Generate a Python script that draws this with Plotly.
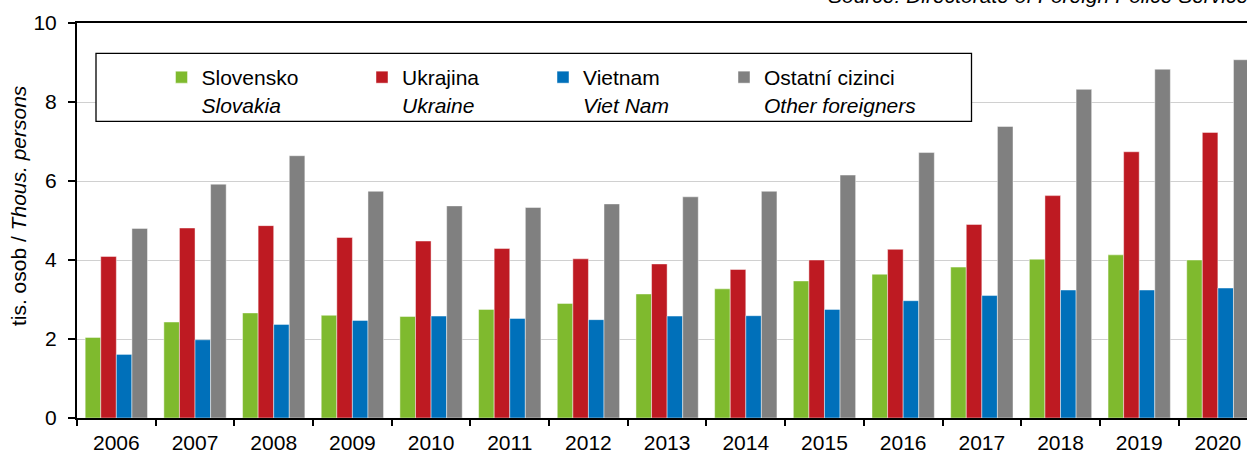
import plotly.graph_objects as go

years = [str(y) for y in range(2006, 2021)]
slovensko = [2.04, 2.43, 2.66, 2.60, 2.57, 2.75, 2.90, 3.14, 3.27, 3.47, 3.64, 3.82, 4.02, 4.13, 4.00]
ukrajina = [4.09, 4.81, 4.87, 4.57, 4.48, 4.29, 4.03, 3.90, 3.76, 4.00, 4.27, 4.90, 5.63, 6.74, 7.23]
vietnam = [1.61, 1.98, 2.37, 2.47, 2.58, 2.52, 2.49, 2.58, 2.59, 2.75, 2.97, 3.10, 3.24, 3.24, 3.29]
ostatni = [4.80, 5.92, 6.64, 5.74, 5.37, 5.33, 5.42, 5.60, 5.74, 6.15, 6.72, 7.38, 8.32, 8.83, 9.07]

names = ["Slovensko<br><i>Slovakia</i>", "Ukrajina<br><i>Ukraine</i>",
         "Vietnam<br><i>Viet Nam</i>", "Ostatní cizinci<br><i>Other foreigners</i>"]
colors = ["#7FBA2E", "#BE1A22", "#0070BA", "#808080"]
series = [slovensko, ukrajina, vietnam, ostatni]
legend_ids = ["legend", "legend2", "legend3", "legend4"]

FONT = "Arial, Liberation Sans, sans-serif"
W, H = 1247, 452
ML, MR, MT, MB = 77, 0, 23, 34
PW, PH = W - ML - MR, H - MT - MB


def px_x(p):
    return (p - ML) / PW


def px_y(p):
    return (H - MB - p) / PH


fig = go.Figure()
for vals, name, col, lid in zip(series, names, colors, legend_ids):
    fig.add_trace(go.Bar(
        x=years, y=vals, name=name, legend=lid,
        marker=dict(color=col, line=dict(color="rgba(255,255,255,0.45)", width=1)),
    ))

legend_px = [161.5, 362, 543, 724]
layout_legends = {}
for lid, lx in zip(legend_ids, legend_px):
    layout_legends[lid] = dict(
        x=px_x(lx), xanchor="left", y=px_y(57), yanchor="top",
        bgcolor="rgba(0,0,0,0)", borderwidth=0, valign="top",
        font=dict(family=FONT, size=21, color="black"),
    )

fig.update_layout(
    width=W, height=H,
    margin=dict(l=ML, r=MR, t=MT, b=MB, pad=0, autoexpand=False),
    paper_bgcolor="white", plot_bgcolor="white",
    barmode="group", bargap=0.208, bargroupgap=0,
    font=dict(family=FONT, size=21, color="black"),
    showlegend=True,
    **layout_legends,
    xaxis=dict(
        type="category", range=[-0.5, 14.37], automargin=False,
        showline=True, linecolor="black", linewidth=2, mirror=True,
        ticks="outside", tickson="boundaries", ticklen=6, tickwidth=2, tickcolor="black",
        showgrid=False, ticklabelstandoff=5,
        tickfont=dict(family=FONT, size=21, color="black"),
    ),
    yaxis=dict(
        range=[0, 10], dtick=2, tick0=0, automargin=False,
        showline=True, linecolor="black", linewidth=2,
        ticks="outside", ticklen=7, tickwidth=1.5, tickcolor="black",
        showgrid=True, gridcolor="#D0D0D0", gridwidth=1.3,
        zeroline=False, ticklabelstandoff=7,
        tickfont=dict(family=FONT, size=21, color="black"),
    ),
    shapes=[dict(
        type="rect", xref="paper", yref="paper", layer="above",
        x0=px_x(96), x1=px_x(971.5), y0=px_y(121.3), y1=px_y(53.3),
        line=dict(color="black", width=1.3), fillcolor="white",
    )],
    annotations=[
        dict(text="tis. osob / <i>Thous. persons</i>", textangle=-90,
             xref="paper", yref="paper", x=px_x(18.5), y=px_y(205.6),
             xanchor="center", yanchor="middle", showarrow=False,
             font=dict(family=FONT, size=21, color="black")),
        dict(text="<i>Source: Directorate of Foreign Police Service</i>",
             xref="paper", yref="paper", x=px_x(826), y=px_y(9),
             xanchor="left", yanchor="bottom", showarrow=False,
             font=dict(family=FONT, size=21, color="black")),
    ],
)

fig.write_html(
    "out.html",
    config={"displayModeBar": False},
    post_script="document.body.style.margin='0';document.body.style.padding='0';",
)
